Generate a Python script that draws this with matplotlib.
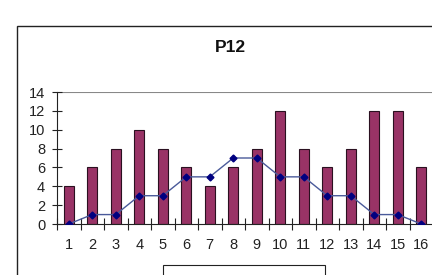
import matplotlib
matplotlib.use("Agg")
import matplotlib.pyplot as plt
from matplotlib.patches import Rectangle
import numpy as np

plt.rcParams["font.family"] = ["Liberation Sans", "DejaVu Sans"]

categories = [str(i) for i in range(1, 17)]
bar_values = [4, 6, 8, 10, 8, 6, 4, 6, 8, 12, 8, 6, 8, 12, 12, 6]
line_values = [0, 1, 1, 3, 3, 5, 5, 7, 7, 5, 5, 3, 3, 1, 1, 0]
y_ticks = [0, 2, 4, 6, 8, 10, 12, 14]

W, H = 432, 275
fig = plt.figure(figsize=(W / 100, H / 100), dpi=100)
fig.patch.set_facecolor("white")

# outer chart frame (extends beyond the image on right and bottom)
fig.add_artist(Rectangle((17 / W, -0.1), 1.2, (H - 26) / H + 0.1,
                         transform=fig.transFigure, fill=False,
                         edgecolor="#222222", linewidth=1.0))
# legend box (cut off at the bottom)
fig.add_artist(Rectangle((163 / W, -0.1), (325 - 163) / W, (H - 265) / H + 0.1,
                         transform=fig.transFigure, fill=False,
                         edgecolor="#222222", linewidth=0.8))

left, right = 57, 433
top, bottom = 92, 224
ax = fig.add_axes([left / W, (H - bottom) / H, (right - left) / W, (bottom - top) / H])
ax.set_facecolor("none")

x = np.arange(1, len(categories) + 1)
ax.bar(x, bar_values, width=0.42, color="#993366", edgecolor="#2a1020", linewidth=0.8, zorder=2)
ax.plot(x, line_values, color="#4a5a9a", linewidth=1.0, marker="D", markersize=3.5,
        markerfacecolor="#000080", markeredgecolor="#000080", zorder=3)

ax.set_xlim(0.5, 16.5)
ax.set_ylim(0, 14)
ax.set_yticks(y_ticks)
ax.set_yticklabels([str(v) for v in y_ticks], fontsize=10.5, color="#222222")
ax.set_xticks(x)
ax.set_xticklabels(categories, fontsize=10.5, color="#222222")
ax.tick_params(axis="x", length=0, pad=10)
ax.set_xticks(np.arange(0.5, 17, 1), minor=True)
ax.tick_params(axis="x", which="minor", direction="inout", length=8, width=0.8, color="#222222")
ax.tick_params(axis="y", direction="inout", length=7, width=0.8, color="#222222", pad=5)

ax.axhline(14, color="#888888", linewidth=0.8, zorder=1)
for s in ["top", "right"]:
    ax.spines[s].set_visible(False)
ax.spines["left"].set_color("#222222")
ax.spines["bottom"].set_color("#222222")
ax.spines["left"].set_linewidth(0.8)
ax.spines["bottom"].set_linewidth(0.8)

fig.text(230 / W, (H - 47) / H, "P12", ha="center", va="center",
         fontsize=12.5, fontweight="bold", color="#111111")

fig.savefig("out.png", dpi=100)
